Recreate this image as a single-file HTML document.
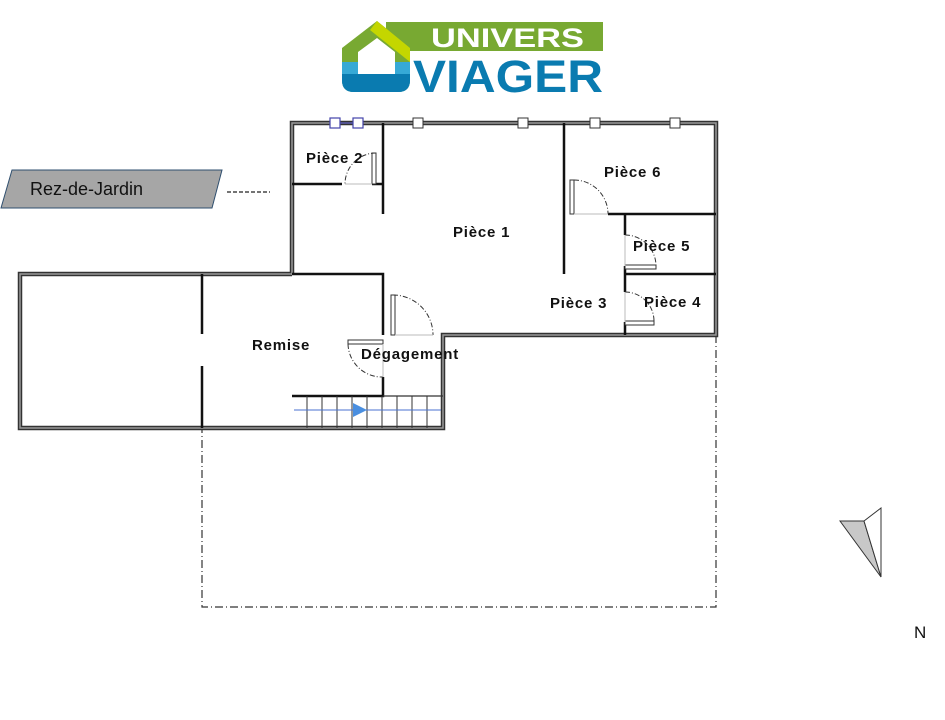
<!DOCTYPE html>
<html><head><meta charset="utf-8"><style>
html,body{margin:0;padding:0;background:#fff;}
svg{display:block;}
text{font-family:"Liberation Sans","DejaVu Sans",sans-serif;}
</style></head><body>
<svg width="945" height="720" viewBox="0 0 945 720" xmlns="http://www.w3.org/2000/svg">
<rect width="945" height="720" fill="#fff"/>
<!-- Logo -->
<rect x="386" y="22" width="217" height="29" fill="#78a932"/>
<text x="431" y="47" font-size="27" font-weight="bold" fill="#fff" textLength="153" lengthAdjust="spacingAndGlyphs">UNIVERS</text>
<text x="413" y="92" font-size="45" font-weight="bold" fill="#0a7bb0" textLength="190" lengthAdjust="spacingAndGlyphs">VIAGER</text>
<path d="M342,48 L377,21 L410,48 L410,80 Q410,92 398,92 L354,92 Q342,92 342,80 Z" fill="#78a932"/>
<path d="M377,21 L410,48 L410,62 L370,30 Z" fill="#c4d600"/>
<path d="M342,62 L410,62 L410,80 Q410,92 398,92 L354,92 Q342,92 342,80 Z" fill="#36a9d6"/>
<path d="M342,74 L410,74 L410,80 Q410,92 398,92 L354,92 Q342,92 342,80 Z" fill="#0a7bb0"/>
<path d="M358,52 L377,38 L395,52 L395,74 L358,74 Z" fill="#fff"/>
<!-- Label -->
<polygon points="12,170 222,170 212,208 1,208" fill="#a6a6a6" stroke="#2f4f6f" stroke-width="1"/>
<text x="30" y="195" font-size="18" fill="#111">Rez-de-Jardin</text>
<line x1="227" y1="192" x2="270" y2="192" stroke="#222" stroke-width="1.2" stroke-dasharray="4,2"/>
<!-- dash-dot outline -->
<path d="M716,335 L716,607 L202,607 L202,428" fill="none" stroke="#333" stroke-width="1.2" stroke-dasharray="8,3,1,3"/>
<!-- outer walls -->
<g fill="none" stroke="#333" stroke-width="4.5" stroke-linejoin="miter">
<path d="M292,275 L292,123 L716,123 L716,335 L443,335 L443,428 L20,428 L20,274 L292,274"/>
</g>
<g fill="none" stroke="#999" stroke-width="1.5">
<path d="M292,275 L292,123 L716,123 L716,335 L443,335 L443,428 L20,428 L20,274 L292,274"/>
</g>
<!-- interior walls -->
<g stroke="#111" stroke-width="2.5" fill="none">
<path d="M292,274 L383,274 L383,335"/>
<path d="M292,184 L342,184 M372,184 L383,184 M383,123 L383,214"/>
<path d="M564,123 L564,274"/>
<path d="M608,214 L716,214"/>
<path d="M625,214 L625,235 M625,266 L625,274 L716,274 M625,274 L625,292 M625,322 L625,335"/>
<path d="M202,274 L202,334 M202,366 L202,428"/>
<path d="M348,342 L383,342 M383,377 L383,396 L292,396"/>
</g>
<line x1="383" y1="396" x2="443" y2="396" stroke="#333" stroke-width="1.2"/>
<!-- door panels -->
<g fill="#fff" stroke="#333" stroke-width="1">
<rect x="372" y="153" width="4" height="31"/>
<rect x="570" y="180" width="4" height="34"/>
<rect x="391" y="295" width="4" height="40"/>
<rect x="348" y="340" width="35" height="4"/>
<rect x="625" y="265" width="31" height="4"/>
<rect x="625" y="321" width="29" height="4"/>
</g>
<g fill="none" stroke="#333" stroke-width="1" stroke-dasharray="5,2,1,2">
<path d="M376,153 A31,31 0 0 0 345,184"/>
<path d="M574,180 A34,34 0 0 1 608,214"/>
<path d="M393,295 A40,40 0 0 1 433,335"/>
<path d="M348,344 A34,34 0 0 0 383,377"/>
<path d="M625,235 A31,31 0 0 1 656,266"/>
<path d="M625,292 A29,29 0 0 1 654,321"/>
</g>
<g stroke="#bbb" stroke-width="1">
<line x1="345" y1="184" x2="372" y2="184"/><line x1="574" y1="214" x2="608" y2="214"/>
<line x1="395" y1="335" x2="433" y2="335"/><line x1="383" y1="344" x2="383" y2="377"/>
<line x1="625" y1="235" x2="625" y2="266"/><line x1="625" y1="292" x2="625" y2="322"/>
</g>
<!-- stairs -->
<g stroke="#333" stroke-width="1">
<line x1="307" y1="396" x2="307" y2="428"/><line x1="322" y1="396" x2="322" y2="428"/>
<line x1="337" y1="396" x2="337" y2="428"/><line x1="352" y1="396" x2="352" y2="428"/>
<line x1="367" y1="396" x2="367" y2="428"/><line x1="382" y1="396" x2="382" y2="428"/>
<line x1="397" y1="396" x2="397" y2="428"/><line x1="412" y1="396" x2="412" y2="428"/>
<line x1="427" y1="396" x2="427" y2="428"/>
</g>
<line x1="294" y1="410" x2="441" y2="410" stroke="#4a72d0" stroke-width="1"/>
<polygon points="353,403 367,410 353,417" fill="#4a8fe0"/>
<!-- windows -->
<g fill="#fff" stroke="#333" stroke-width="1">
<rect x="413" y="118" width="10" height="10"/><rect x="518" y="118" width="10" height="10"/>
<rect x="590" y="118" width="10" height="10"/><rect x="670" y="118" width="10" height="10"/>
</g>
<g fill="#fff" stroke="#44a" stroke-width="1.2">
<rect x="330" y="118" width="10" height="10"/><rect x="353" y="118" width="10" height="10"/>
<line x1="340" y1="123" x2="353" y2="123"/>
</g>
<!-- labels -->
<g font-size="15" font-weight="bold" fill="#111" letter-spacing="0.8">
<text x="306" y="163">Pièce 2</text>
<text x="604" y="177">Pièce 6</text>
<text x="453" y="237">Pièce 1</text>
<text x="633" y="251">Pièce 5</text>
<text x="550" y="308">Pièce 3</text>
<text x="644" y="307">Pièce 4</text>
<text x="252" y="350">Remise</text>
<text x="361" y="359">Dégagement</text>
</g>
<!-- north arrow -->
<polygon points="840,521 864,521 881,577" fill="#c8c8c8" stroke="#333" stroke-width="1"/>
<polygon points="864,521 881,508 881,577" fill="#fff" stroke="#333" stroke-width="1"/>
<text x="914" y="638" font-size="17" fill="#111">N</text>
</svg>
</body></html>
